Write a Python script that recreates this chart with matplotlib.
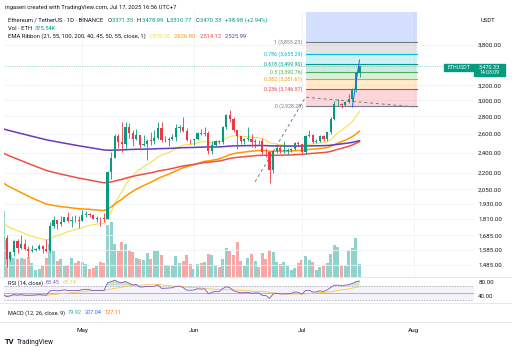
import matplotlib
matplotlib.use("Agg")
import matplotlib.pyplot as plt
from matplotlib.patches import Rectangle
from matplotlib.lines import Line2D
import numpy as np
import pandas as pd

plt.rcParams['font.family'] = ['Roboto', 'DejaVu Sans']

# ETHUSDT daily candles, 2025-04-09 .. 2025-07-17
start = "2025-04-09"
opens = [1472, 1669, 1521, 1566, 1645, 1595, 1623, 1588, 1577, 1584, 1589, 1613, 1587, 1578, 1757, 1796,
         1770, 1786, 1820, 1794, 1799, 1798,
         1793, 1838, 1842, 1834, 1808, 1816, 1814, 1810, 2207, 2346, 2581, 2515, 2493, 2679, 2609, 2545,
         2585, 2478, 2494, 2524, 2522, 2552, 2665, 2527, 2531, 2548, 2567, 2663, 2682, 2632, 2532,
         2528, 2540, 2606, 2594, 2609, 2415, 2481, 2524, 2510, 2680, 2815, 2772, 2643, 2578, 2525, 2546,
         2546, 2510, 2525, 2521, 2408, 2403, 2226, 2416, 2447, 2417, 2419, 2424, 2436, 2501,
         2486, 2406, 2572, 2591, 2510, 2517, 2572, 2542, 2615, 2770, 2951, 2958, 2943, 2973, 3014, 3138,
         3371.35]
highs = [1690, 1689, 1578, 1654, 1658, 1690, 1660, 1613, 1614, 1598, 1622, 1616, 1658, 1783, 1830, 1800,
         1826, 1823, 1860, 1831, 1841, 1826,
         1875, 1868, 1850, 1846, 1832, 1824, 1856, 2214, 2401, 2595, 2597, 2739, 2738, 2723, 2640, 2651,
         2586, 2588, 2545, 2619, 2639, 2734, 2734, 2575, 2564, 2597, 2709, 2703, 2788, 2660, 2546,
         2540, 2624, 2657, 2680, 2636, 2525, 2532, 2537, 2693, 2827, 2880, 2792, 2645, 2580, 2550, 2680,
         2600, 2547, 2537, 2553, 2451, 2412, 2428, 2466, 2471, 2519, 2443, 2444, 2513, 2525,
         2488, 2586, 2638, 2594, 2538, 2590, 2588, 2621, 2789, 2996, 3023, 2965, 2993, 3081, 3160, 3381,
         3478.99]
lows = [1385, 1471, 1508, 1542, 1563, 1592, 1580, 1538, 1566, 1574, 1584, 1565, 1566, 1566, 1742, 1730,
        1751, 1783, 1781, 1747, 1783, 1741,
        1791, 1822, 1825, 1803, 1784, 1753, 1781, 1808, 2143, 2344, 2445, 2408, 2424, 2551, 2472, 2532,
        2450, 2466, 2322, 2476, 2485, 2539, 2512, 2506, 2465, 2530, 2522, 2616, 2618, 2516, 2490,
        2474, 2530, 2582, 2580, 2381, 2384, 2469, 2489, 2490, 2657, 2735, 2622, 2437, 2490, 2484, 2526,
        2459, 2450, 2488, 2384, 2354, 2111, 2202, 2391, 2395, 2400, 2381, 2410, 2424, 2469,
        2393, 2389, 2569, 2495, 2501, 2508, 2519, 2524, 2603, 2758, 2934, 2900, 2926, 2970, 2990, 3105,
        3310.77]
closes = [1669, 1521, 1566, 1645, 1595, 1623, 1588, 1577, 1584, 1589, 1613, 1587, 1578, 1757, 1796, 1770,
          1786, 1820, 1794, 1799, 1798, 1793,
          1838, 1842, 1834, 1808, 1816, 1814, 1810, 2207, 2346, 2581, 2515, 2493, 2679, 2609, 2545, 2585,
          2478, 2494, 2524, 2522, 2552, 2665, 2527, 2531, 2548, 2567, 2663, 2682, 2632, 2532, 2528,
          2540, 2606, 2594, 2609, 2415, 2481, 2524, 2510, 2680, 2815, 2772, 2643, 2578, 2525, 2546, 2546,
          2510, 2525, 2521, 2408, 2403, 2226, 2416, 2447, 2417, 2419, 2424, 2436, 2501, 2486,
          2406, 2572, 2591, 2510, 2517, 2572, 2542, 2615, 2770, 2951, 2958, 2943, 2973, 3014, 3138, 3371.35,
          3470.33]
# volume, thousand ETH
volumes = [1980, 1110, 660, 570, 540, 570, 540, 600, 420, 210, 240, 330, 570, 990, 810, 480, 540, 330,
           360, 570, 420, 480,
           450, 390, 240, 270, 330, 450, 420, 1560, 1650, 990, 780, 1050, 990, 810, 750, 570, 540, 510,
           720, 540, 780, 810, 660, 360, 360, 360, 630, 420, 480, 660, 390,
           240, 390, 420, 450, 690, 660, 360, 300, 540, 870, 780, 660, 1050, 480, 330, 570, 690, 480,
           300, 720, 540, 810, 750, 450, 390, 450, 330, 210, 270, 420,
           510, 630, 510, 450, 210, 300, 330, 420, 690, 960, 900, 360, 360, 810, 870, 1170, 375.54]

# EMA ribbon: lengths, value just before the first bar, colours
ema_lengths = [21, 55, 100, 200]
ema_seeds = [1790, 2125, 2410, 2665]
ema_colors = ['#f7e04e', '#ff9800', '#ef5046', '#673ab7']

# fibonacci retracement drawing
fib_levels = [0, 0.236, 0.382, 0.5, 0.618, 0.786, 1, 1.618]
fib_prices = [2928.28, 3146.57, 3281.61, 3390.76, 3499.90, 3655.29, 3853.23, 4424.88]
fib_colors = ['#787b86', '#f23645', '#ff9800', '#4caf50', '#089981', '#00bcd4', '#787b86', '#2962ff']
fib_span = ["2025-07-02", "2025-08-02"]
trend_dates = ["2025-06-18", "2025-07-02", "2025-08-02"]
trend_prices = [2118, 3040, 2914]
blue_dates = ["2025-07-15", "2025-07-17"]
blue_prices = [2914, 3565]

price_ticks = [1485, 1585, 1685, 1810, 1930, 2050, 2200, 2400, 2600, 2800, 3000, 3200, 3800]
months = ["2025-05-01", "2025-06-01", "2025-07-01", "2025-08-01"]
month_labels = ["May", "Jun", "Jul", "Aug"]

UP, DOWN, TXT = '#089981', '#f23645', '#131722'

opens, highs, lows, closes = map(np.array, (opens, highs, lows, closes))
volumes = np.array(volumes)
dates = pd.date_range(start, periods=len(closes), freq="D")
x = np.arange(len(closes))


def day(s):
    return (pd.Timestamp(s) - dates[0]).days


def ema(values, span, seed):
    a = 2 / (span + 1)
    out, prev = [], seed
    for v in values:
        prev = a * v + (1 - a) * prev
        out.append(prev)
    return np.array(out)


def rsi(values, prev_close, n=14, g=22.0, l=48.0):
    ch = np.diff(np.r_[prev_close, values])
    out = []
    for c in ch:
        g = (g * (n - 1) + max(c, 0)) / n
        l = (l * (n - 1) + max(-c, 0)) / n
        out.append(100 - 100 / (1 + g / l))
    return np.array(out)


W, H = 512, 351
fig = plt.figure(figsize=(W / 100, H / 100), dpi=100)


def fbox(x0, y0, x1, y1):
    return [x0 / W, 1 - y1 / H, (x1 - x0) / W, (y1 - y0) / H]


ax = fig.add_axes(fbox(4, 12, 474, 277))
ax_rsi = fig.add_axes(fbox(4, 277, 474, 303), sharex=ax)
ax_macd = fig.add_axes(fbox(4, 303, 474, 322), sharex=ax)
ax_vol = ax.twinx()
ax.set_zorder(ax_vol.get_zorder() + 1)
ax.patch.set_visible(False)

up = closes >= opens
col = np.where(up, UP, DOWN)

# volume
ax_vol.bar(x, volumes, width=0.8, color=np.where(up, '#26a69a', '#ef5350'), alpha=0.5, linewidth=0)
ax_vol.set_ylim(0, 30 * 265)
ax_vol.axis('off')

# candles
ax.vlines(x, lows, highs, colors=col, lw=0.6, zorder=4)
ax.bar(x, np.maximum(np.abs(closes - opens), 0.002 * closes), bottom=np.minimum(opens, closes),
       width=0.62, color=col, linewidth=0, zorder=5)

for n, s, c in zip(ema_lengths, ema_seeds, ema_colors):
    ax.plot(x, ema(closes, n, s), color=c, lw=0.8 if n == 21 else 1.1, zorder=3)

# fib retracement
f0, f1 = day(fib_span[0]), day(fib_span[1])
for k in range(len(fib_levels) - 1):
    ax.fill_between([f0, f1], fib_prices[k], fib_prices[k + 1], color=fib_colors[k + 1], alpha=0.2,
                    linewidth=0, zorder=1)
for lv, p, c in zip(fib_levels[:-1], fib_prices[:-1], fib_colors[:-1]):
    ax.plot([f0, f1], [p, p], color=c, lw=0.8, zorder=2)
    ax.text(f0 - 0.8, p, f"{lv:g} ({p:,.2f})", color=c, fontsize=3.8, ha='right', va='center')
ax.plot([day(d) for d in trend_dates], trend_prices, color='#787b86', lw=0.7, dashes=(3, 3), zorder=2)
ax.plot([day(d) for d in blue_dates], blue_prices, color='#2962ff', lw=0.7, zorder=6)
ax.axhline(closes[-1], color=UP, lw=0.5, ls=':', alpha=0.7)

ax.set_yscale('log')
ax.set_ylim(3800 * np.exp(-(277 - 45) / 234), 3800 * np.exp((45 - 12) / 234))
ax.set_xlim(0.25, 0.25 + 470 / 3.6)
ax.yaxis.tick_right()
ax.set_yticks(price_ticks)
ax.set_yticklabels([f"{t:,.2f}" for t in price_ticks])
ax.yaxis.set_minor_locator(matplotlib.ticker.NullLocator())
ax.grid(True, color='#f0f3fa', lw=0.6)
ax.set_axisbelow(True)

# RSI pane
r = rsi(closes, opens[0])
r_ma = pd.Series(r).rolling(14, min_periods=1).mean().values
ax_rsi.axhspan(30, 70, color='#7e57c2', alpha=0.07, lw=0)
for lvl in (70, 30):
    ax_rsi.axhline(lvl, color='#9598a1', lw=0.5, dashes=(2, 2))
ax_rsi.axhline(50, color='#9575cd', lw=0.6, alpha=0.7)
ax_rsi.fill_between(x, r, 70, where=r > 70, interpolate=True, color='#4caf50', alpha=0.3, lw=0)
ax_rsi.plot(x, r_ma, color='#f7c948', lw=0.6)
ax_rsi.plot(x, r, color='#7e57c2', lw=0.6)
ax_rsi.set_ylim(20, 95)
ax_rsi.yaxis.tick_right()
ax_rsi.set_yticks([80, 40])
ax_rsi.set_yticklabels(["80.00", "40.00"])
ax_macd.set_yticks([])

ax_macd.set_xticks([day(m) for m in months])
ax_macd.set_xticklabels(month_labels)
ax.xaxis.set_minor_locator(matplotlib.ticker.NullLocator())

for a in (ax, ax_rsi, ax_macd):
    for sp in a.spines.values():
        sp.set_visible(False)
    a.tick_params(length=0, labelsize=4.4, colors=TXT, pad=3)
ax.tick_params(labelbottom=False)
ax_rsi.tick_params(labelbottom=False)
ax_macd.tick_params(axis='x', pad=4, labelsize=4.6)

for py in (277, 303, 322):
    fig.add_artist(Line2D([0, 1], [1 - py / H] * 2, color='#e0e3eb', lw=0.6, transform=fig.transFigure))

rend = fig.canvas.get_renderer()


def runs(px, py, parts, size=4.2, gap=3, weight='normal'):
    xf = px
    for s, c in parts:
        t = fig.text(xf / W, 1 - py / H, s, color=c, fontsize=size, ha='left', va='center',
                     fontweight=weight)
        xf = t.get_window_extent(renderer=rend).x1 + gap


runs(5, 7, [("ingaseri created with TradingView.com, Jul 17, 2025 16:56 UTC+7", TXT)])
chg = closes[-1] - opens[-1]
runs(8, 20, [("Ethereum / TetherUS · 1D · BINANCE", TXT)])
ohlc = [("O", opens[-1]), ("H", highs[-1]), ("L", lows[-1]), ("C", closes[-1])]
xt = 8
t0 = fig.texts[-1]
xt = t0.get_window_extent(renderer=rend).x1 + 4
for k, v in ohlc:
    t = fig.text(xt / W, 1 - 20 / H, k, color=TXT, fontsize=4.2, va='center')
    xt = t.get_window_extent(renderer=rend).x1 + 0.3
    t = fig.text(xt / W, 1 - 20 / H, f"{v:,.2f}", color=UP, fontsize=4.2, va='center')
    xt = t.get_window_extent(renderer=rend).x1 + 3
fig.text(xt / W, 1 - 20 / H, f"+{chg:,.2f} (+{chg / opens[-1] * 100:.2f}%)", color=UP, fontsize=4.2,
         va='center')
runs(8, 28, [("Vol · ETH", TXT), (f"{volumes[-1]:.2f}K", UP)])
ema_last = [ema(closes, n, s)[-1] for n, s in zip(ema_lengths, ema_seeds)]
runs(8, 36, [("EMA Ribbon (21, 55, 100, 200, 40, 45, 50, 55, close, 1)", TXT)]
     + [("2,859.06", ema_colors[0]), ("2,626.80", ema_colors[1]), ("2,514.12", ema_colors[2]),
        ("2,525.99", ema_colors[3])])
fig.text(488 / W, 1 - 20 / H, "USDT", color=TXT, fontsize=4.2, ha='center', va='center')

runs(8, 283, [("RSI (14, close)", TXT), ("83.45", '#7e57c2'), ("68.74", '#f7c948')], size=4)
runs(8, 313, [("MACD (12, 26, close, 9)", TXT), ("79.92", '#22ab94'), ("207.04", '#2962ff'),
              ("127.11", '#ff6d00')], size=4)
runs(5, 342, [("TV", TXT)], size=5.5, weight='bold', gap=2)
fig.text(17 / W, 1 - 342 / H, "TradingView", color=TXT, fontsize=4.8, va='center')

# last price tags
for x0, y0, x1, y1 in [(444, 64, 473, 71), (474, 64, 505, 76)]:
    fig.add_artist(Rectangle((x0 / W, 1 - y1 / H), (x1 - x0) / W, (y1 - y0) / H, color=UP,
                             transform=fig.transFigure))
fig.text(458.5 / W, 1 - 67.5 / H, "ETHUSDT", color='white', fontsize=3.8, ha='center', va='center')
fig.text(489.5 / W, 1 - 67.5 / H, f"{closes[-1]:,.2f}", color='white', fontsize=4, ha='center', va='center')
fig.text(489.5 / W, 1 - 73 / H, "14:03:09", color='white', fontsize=3.8, ha='center', va='center')

fig.savefig("out.png", dpi=100)
